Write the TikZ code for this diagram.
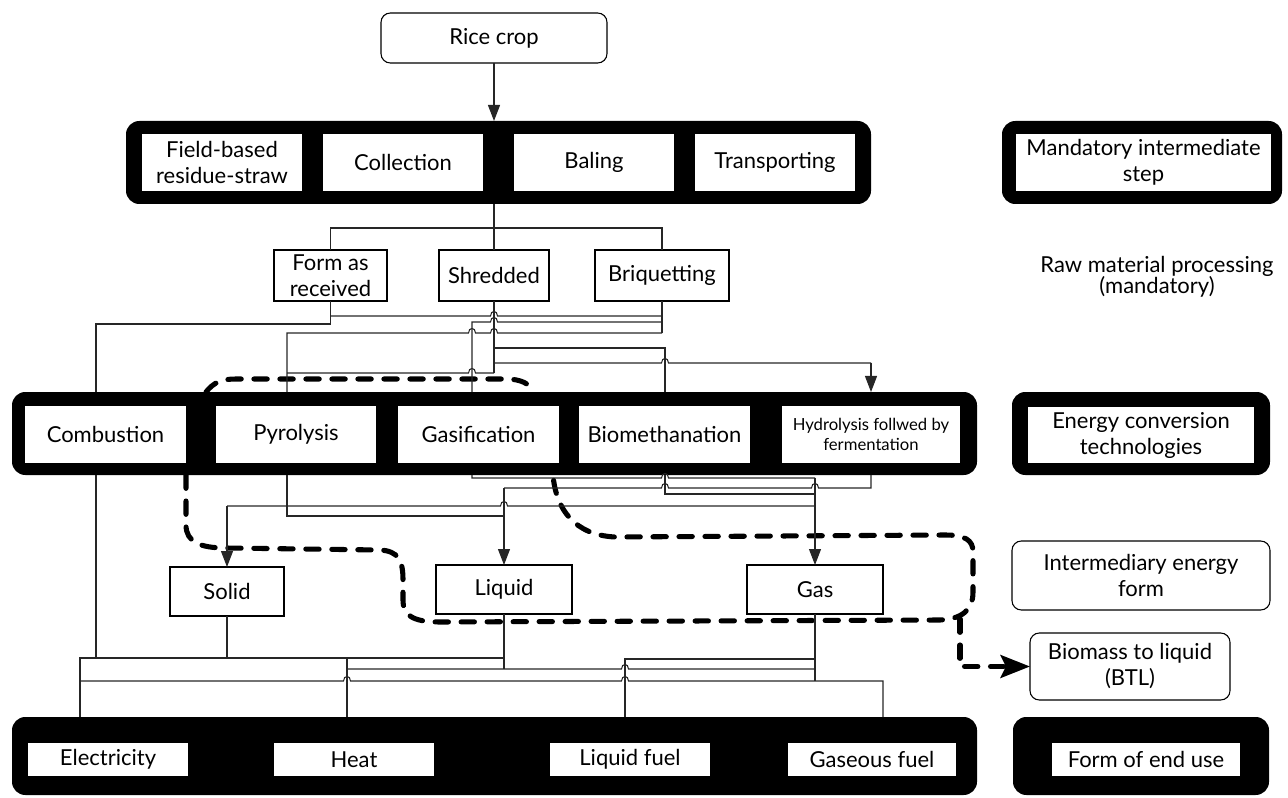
\documentclass[tikz,border=0pt]{standalone}
\usepackage{fontspec}
\setmainfont{Lato}
\usetikzlibrary{arrows.meta}
\newcommand{\hop}[2]{-- ({#1-3.5},#2) .. controls ({#1-3.5},{#2-6}) and ({#1+3.5},{#2-6}) .. ({#1+3.5},#2)}
\newcommand{\bx}[7]{\node[#6, minimum width={(#4-#2)*0.75pt}, minimum height={(#5-#3)*0.75pt}] (#1) at ({(#2+#4)/2},{(#3+#5)/2}) {#7};}
\begin{document}
\begin{tikzpicture}[x=0.75pt,y=-0.75pt,
  fs/.style={font=\fontsize{16.5}{19.5}\selectfont},
  band/.style={fill=black, draw=none, rounded corners=10pt, inner sep=0pt, outer sep=0pt},
  wbox/.style={fill=white, draw=none, inner sep=0pt, outer sep=0pt, align=center, fs},
  tbox/.style={fill=white, draw=black, line width=0.8pt, inner sep=0pt, outer sep=0pt, align=center, fs},
  rbox/.style={tbox, rounded corners=7pt},
  conn/.style={draw=black!85, line width=0.8pt},
  arr/.style={conn, -{Triangle[length=12pt,width=9pt]}},
  dloop/.style={draw=black, line width=3.8pt, line cap=round, dash pattern=on 10pt off 9.5pt},
]
\useasboundingbox (0,0) rectangle (1288,798);

% dashed loop (behind the bands)
\draw[dloop] (206,392) .. controls (214,382) and (222,379) .. (236,379) -- (505,379) .. controls (522,379) and (530,384) .. (533,392);
\draw[dloop] (186,475) -- (186,525) .. controls (186,542) and (200,548) .. (226,548) -- (380,550) .. controls (398,551) and (403,560) .. (403,580) -- (403,600) .. controls (403,615) and (412,622) .. (440,622) -- (940,620) .. controls (962,619) and (973,610) .. (973,592) -- (973,552) .. controls (973,540) and (965,535) .. (945,535) -- (615,537) .. controls (575,535) and (556,510) .. (553,475);

% top
\bx{rice}{381}{13}{607}{63}{rbox}{Rice crop}
\bx{bandA}{126}{121}{871}{204}{band}{}
\bx{fieldb}{142}{134}{302}{191}{wbox}{Field-based\\residue-straw}
\bx{coll}{323}{134}{483}{191}{wbox}{Collection}
\bx{baling}{514}{134}{674}{191}{wbox}{Baling}
\bx{transp}{695}{134}{855}{191}{wbox}{Transporting}
\bx{legA}{1002}{121}{1282}{204}{band}{}
\bx{legAt}{1016}{134}{1271}{191}{wbox}{Mandatory intermediate\\step}

% processing
\bx{far}{274}{250}{387}{301}{tbox}{Form as\\received}
\bx{shred}{439}{250}{549}{301}{tbox}{Shredded}
\bx{briq}{595}{250}{729}{301}{tbox}{Briquetting}
\node[fs, align=center, inner sep=0pt] (rawt) at (1157,277) {Raw material processing\\[-4pt](mandatory)};

% energy conversion
\bx{bandB}{12}{392}{977}{475}{band}{}
\bx{comb}{25}{406}{186}{463}{wbox}{Combustion}
\bx{pyro}{216}{406}{376}{463}{wbox}{Pyrolysis}
\bx{gasi}{398}{406}{559}{463}{wbox}{Gasification}
\bx{biom}{579}{406}{750}{463}{wbox}{Biomethanation}
\bx{hydro}{782}{406}{960}{463}{wbox, font=\fontsize{12.5}{15}\selectfont}{Hydrolysis follwed by\\fermentation}
\bx{legB}{1012}{392}{1270}{475}{band}{}
\bx{legBt}{1028}{407}{1254}{463}{wbox}{Energy conversion\\technologies}

% intermediate
\bx{solid}{170}{567}{284}{616}{tbox}{Solid}
\bx{liquid}{436}{565}{572}{614}{tbox}{Liquid}
\bx{gas}{747}{565}{883}{614}{tbox}{Gas}
\bx{legC}{1012}{541}{1270}{610}{rbox}{Intermediary energy\\form}
\bx{btl}{1030}{633}{1230}{700}{rbox}{Biomass to liquid\\(BTL)}

% end use
\bx{bandC}{12}{717}{977}{795}{band}{}
\bx{elec}{28}{743}{188}{776}{wbox}{Electricity}
\bx{heat}{274}{743}{434}{776}{wbox}{Heat}
\bx{lfuel}{550}{743}{710}{776}{wbox}{Liquid fuel}
\bx{gfuel}{788}{743}{956}{776}{wbox}{Gaseous fuel}
\bx{legD}{1013}{717}{1269}{795}{band}{}
\bx{legDt}{1052}{743}{1240}{776}{wbox}{Form of end use}

% BTL branch
\draw[dloop, -{Stealth[length=22pt,width=17pt,inset=4pt]}] (960,619) |- (btl.west);

% rice crop to band A
\draw[arr] (rice.south) -- (rice.south |- bandA.north);
% band A to processing
\coordinate (jA) at (494,228);
\draw[conn] (494,204) -- (jA);
\draw[conn] (far.north) |- (jA) -| (briq.north);
\draw[conn] (jA) -- (jA |- shred.north);

% processing to energy conversion
\draw[conn] (far.south) |- (96,324) -- (96,392);
\draw[conn] (330.5,316) \hop{494}{316} -- (662,316);
\draw[conn] (briq.south) -- (662,333);
\draw[conn] (472,392) -- (472,322) \hop{494}{322} -- (662,322);
\draw[conn] (287,392) -- (287,333) \hop{472}{333} \hop{494}{333} -- (662,333);
\draw[conn] (shred.south) -- (494,373);
\draw[conn] (494,348) -- (665,348) -- (665,392);
\draw[conn] (494,363) \hop{665}{363} -- (871,363);
\draw[arr] (871,363) -- (871,392);
\draw[conn] (287,373) \hop{472}{373} -- (494,373);

% energy conversion to intermediate
\draw[conn] (472,475) -- (472,478) \hop{665}{478} -- (815,478);
\draw[arr] (815,478) -- (gas.north);
\draw[conn] (504,488) \hop{665}{488} \hop{815}{488} -- (871,488) -- (871,475);
\draw[arr] (504,488) -- (liquid.north);
\draw[conn] (665,475) -- (665,494) -- (815,494);
\draw[conn] (227,506) \hop{504}{506} -- (815,506);
\draw[arr] (227,506) -- (solid.north);
\draw[conn] (287,475) -- (287,516) -- (504,516);

% intermediate to end use
\draw[conn] (96,475) -- (96,658);
\draw[conn] (solid.south) -- (227,658);
\draw[conn] (80,717) -- (80,658) -- (504,658);
\draw[conn] (liquid.south) -- (504,669);
\draw[conn] (347,658) -- (347,717);
\draw[conn] (625,717) -- (625,659) -- (815,659);
\draw[conn] (347,669) \hop{625}{669} -- (815,669);
\draw[conn] (gas.south) -- (815,681);
\draw[conn] (80,681) \hop{347}{681} \hop{625}{681} -- (883,681) -- (883,717);
\end{tikzpicture}
\end{document}
